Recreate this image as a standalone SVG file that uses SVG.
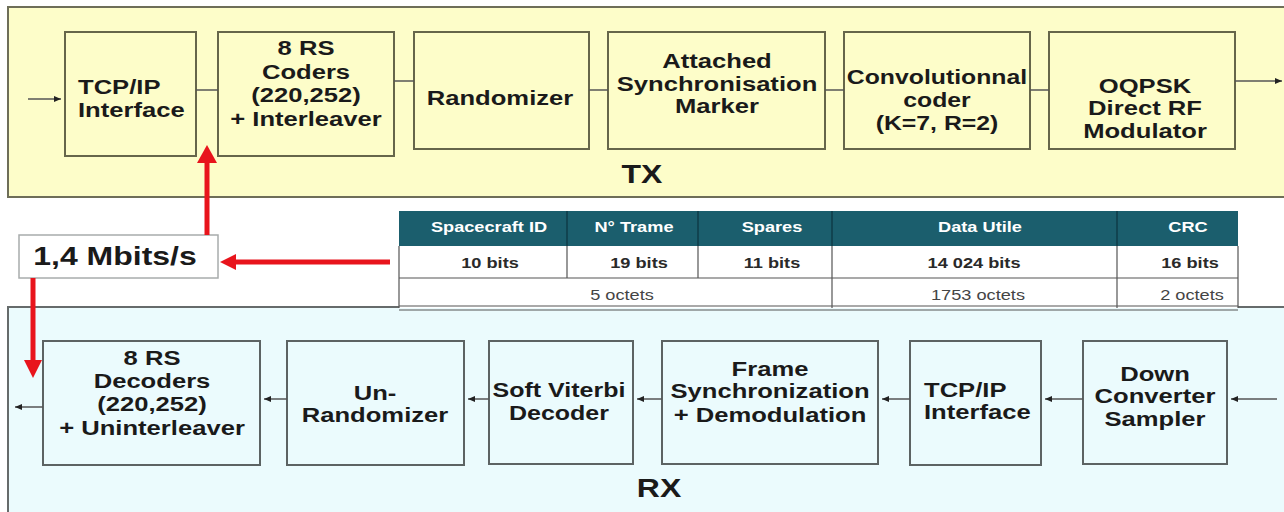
<svg xmlns="http://www.w3.org/2000/svg" width="1284" height="512" viewBox="0 0 1284 512">
<style>
.tx{fill:#fdfdc9;stroke:#6e6e58;stroke-width:2}
.rx{fill:#ebfbfd;stroke:#666b6b;stroke-width:2}
.bt{fill:#fdfdc9;stroke:#66664a;stroke-width:2}
.br{fill:#ebfbfd;stroke:#5c6363;stroke-width:2}
.t{font-family:"Liberation Sans",Arial,sans-serif;font-weight:bold;font-size:20px;fill:#1a1a1a;text-anchor:middle}
.ts{text-anchor:start}
.big{font-size:25px}
.ln{stroke:#555;stroke-width:1.5;fill:none}
.red{stroke:#e8141c;stroke-width:5;fill:none}
.hd{fill:#1b5e6d}
.th{font-family:"Liberation Sans",Arial,sans-serif;font-weight:bold;font-size:14px;fill:#ffffff;text-anchor:middle}
.tb{font-family:"Liberation Sans",Arial,sans-serif;font-weight:bold;font-size:14px;fill:#2a2a2a;text-anchor:middle}
.tn{font-family:"Liberation Sans",Arial,sans-serif;font-size:14px;fill:#444;text-anchor:middle}
.grid{stroke:#555;stroke-width:1.2;fill:none}
</style>
<defs>
<marker id="ah" markerWidth="8" markerHeight="8" refX="7" refY="4" orient="auto" markerUnits="userSpaceOnUse">
<path d="M0,1 L7,4 L0,7 Z" fill="#222"/>
</marker>
</defs>
<rect width="1284" height="512" fill="#ffffff"/>
<g id="tx-panel">
<rect class="tx" x="8" y="7" width="1290" height="190"/>
<text class="t big" transform="matrix(1.28 0 0 1 642 0)" x="0" y="183">TX</text>
</g>
<g id="rx-panel">
<rect class="rx" x="8" y="307" width="1290" height="215"/>
<text class="t big" transform="matrix(1.28 0 0 1 659 0)" x="0" y="497">RX</text>
</g>
<g id="tx-tcpip">
<rect class="bt" x="65" y="32" width="131" height="124"/>
<text class="t ts" transform="matrix(1.28 0 0 1 78 0)"><tspan x="0" y="94">TCP/IP</tspan><tspan x="0" y="117">Interface</tspan></text>
</g>
<g id="tx-rs">
<rect class="bt" x="218" y="32" width="176" height="124"/>
<text class="t" transform="matrix(1.28 0 0 1 306 0)"><tspan x="0" y="55">8 RS</tspan><tspan x="0" y="79">Coders</tspan><tspan x="0" y="102">(220,252)</tspan><tspan x="0" y="126">+ Interleaver</tspan></text>
</g>
<g id="tx-rand">
<rect class="bt" x="414" y="32" width="175" height="117"/>
<text class="t" transform="matrix(1.28 0 0 1 500 0)"><tspan x="0" y="105">Randomizer</tspan></text>
</g>
<g id="tx-asm">
<rect class="bt" x="608" y="32" width="217" height="117"/>
<text class="t" transform="matrix(1.28 0 0 1 717 0)"><tspan x="0" y="68">Attached</tspan><tspan x="0" y="91">Synchronisation</tspan><tspan x="0" y="113">Marker</tspan></text>
</g>
<g id="tx-conv">
<rect class="bt" x="844" y="32" width="186" height="117"/>
<text class="t" transform="matrix(1.24 0 0 1 937 0)"><tspan x="0" y="84">Convolutionnal</tspan><tspan x="0" y="107">coder</tspan><tspan x="0" y="130">(K=7, R=2)</tspan></text>
</g>
<g id="tx-oqpsk">
<rect class="bt" x="1049" y="32" width="186" height="117"/>
<text class="t" transform="matrix(1.28 0 0 1 1145 0)"><tspan x="0" y="93">OQPSK</tspan><tspan x="0" y="115">Direct RF</tspan><tspan x="0" y="138">Modulator</tspan></text>
</g>
<g id="rx-rs">
<rect class="br" x="43" y="341" width="217" height="124"/>
<text class="t" transform="matrix(1.28 0 0 1 152 0)"><tspan x="0" y="365">8 RS</tspan><tspan x="0" y="388">Decoders</tspan><tspan x="0" y="411">(220,252)</tspan><tspan x="0" y="435">+ Uninterleaver</tspan></text>
</g>
<g id="rx-unrand">
<rect class="br" x="287" y="341" width="177" height="124"/>
<text class="t" transform="matrix(1.28 0 0 1 375 0)"><tspan x="0" y="400">Un-</tspan><tspan x="0" y="422">Randomizer</tspan></text>
</g>
<g id="rx-viterbi">
<rect class="br" x="489" y="341" width="144" height="123"/>
<text class="t" transform="matrix(1.25 0 0 1 559 0)"><tspan x="0" y="397">Soft Viterbi</tspan><tspan x="0" y="420">Decoder</tspan></text>
</g>
<g id="rx-frame">
<rect class="br" x="662" y="341" width="216" height="123"/>
<text class="t" transform="matrix(1.28 0 0 1 770 0)"><tspan x="0" y="376">Frame</tspan><tspan x="0" y="398">Synchronization</tspan><tspan x="0" y="422">+ Demodulation</tspan></text>
</g>
<g id="rx-tcpip">
<rect class="br" x="910" y="341" width="131" height="124"/>
<text class="t ts" transform="matrix(1.28 0 0 1 924 0)"><tspan x="0" y="397">TCP/IP</tspan><tspan x="0" y="419">Interface</tspan></text>
</g>
<g id="rx-down">
<rect class="br" x="1083" y="341" width="144" height="123"/>
<text class="t" transform="matrix(1.28 0 0 1 1155 0)"><tspan x="0" y="381">Down</tspan><tspan x="0" y="403">Converter</tspan><tspan x="0" y="426">Sampler</tspan></text>
</g>
<g id="rate">
<rect x="19" y="235" width="199" height="43" fill="#ffffff" stroke="#a8acac" stroke-width="1.5"/>
<text class="t big" transform="matrix(1.28 0 0 1 115 0)" x="0" y="265">1,4 Mbits/s</text>
</g>
<g id="frame-table">
<rect x="399" y="246" width="839" height="62" fill="#ffffff"/>
<rect class="hd" x="399" y="211" width="839" height="35"/>
<path class="grid" d="M399,246 V308 M567,246 V278 M698,246 V278 M832,246 V308 M1117,246 V308 M1238,246 V308 M399,278 H1238 M399,306 H1238 M399,310 H1238"/>
<path d="M567,211 V246 M698,211 V246 M832,211 V246 M1117,211 V246" stroke="#0f3d48" stroke-width="1.5"/>
<text class="th" transform="matrix(1.3 0 0 1 489 0)" x="0" y="232">Spacecraft ID</text>
<text class="th" transform="matrix(1.3 0 0 1 634 0)" x="0" y="232">N° Trame</text>
<text class="th" transform="matrix(1.3 0 0 1 772 0)" x="0" y="232">Spares</text>
<text class="th" transform="matrix(1.3 0 0 1 980 0)" x="0" y="232">Data Utile</text>
<text class="th" transform="matrix(1.3 0 0 1 1188 0)" x="0" y="232">CRC</text>
<text class="tb" transform="matrix(1.3 0 0 1 490 0)" x="0" y="268">10 bits</text>
<text class="tb" transform="matrix(1.3 0 0 1 639 0)" x="0" y="268">19 bits</text>
<text class="tb" transform="matrix(1.3 0 0 1 772 0)" x="0" y="268">11 bits</text>
<text class="tb" transform="matrix(1.3 0 0 1 974 0)" x="0" y="268">14 024 bits</text>
<text class="tb" transform="matrix(1.3 0 0 1 1190 0)" x="0" y="268">16 bits</text>
<text class="tn" transform="matrix(1.3 0 0 1 622 0)" x="0" y="300">5 octets</text>
<text class="tn" transform="matrix(1.3 0 0 1 978 0)" x="0" y="300">1753 octets</text>
<text class="tn" transform="matrix(1.3 0 0 1 1192 0)" x="0" y="300">2 octets</text>
</g>
<g id="connectors">
<path class="ln" d="M28,99 H61" marker-end="url(#ah)"/>
<path class="ln" d="M196,90 H218"/>
<path class="ln" d="M394,81 H414"/>
<path class="ln" d="M589,90 H608"/>
<path class="ln" d="M825,90 H844"/>
<path class="ln" d="M1030,90 H1049"/>
<path class="ln" d="M1235,81 H1282" marker-end="url(#ah)"/>
<path class="ln" d="M1277,399 H1231" marker-end="url(#ah)"/>
<path class="ln" d="M1083,399 H1045" marker-end="url(#ah)"/>
<path class="ln" d="M910,399 H882" marker-end="url(#ah)"/>
<path class="ln" d="M662,399 H637" marker-end="url(#ah)"/>
<path class="ln" d="M489,399 H468" marker-end="url(#ah)"/>
<path class="ln" d="M287,399 H264" marker-end="url(#ah)"/>
<path class="ln" d="M43,407 H15" marker-end="url(#ah)"/>
<path class="red" d="M207,235 V160"/>
<path d="M207,145 L217,163 L197,163 Z" fill="#e8141c"/>
<path class="red" d="M390,262 H234"/>
<path d="M220,262 L236,254 L236,270 Z" fill="#e8141c"/>
<path class="red" d="M33,278 V362"/>
<path d="M33,378 L42,360 L24,360 Z" fill="#e8141c"/>
</g>
</svg>
